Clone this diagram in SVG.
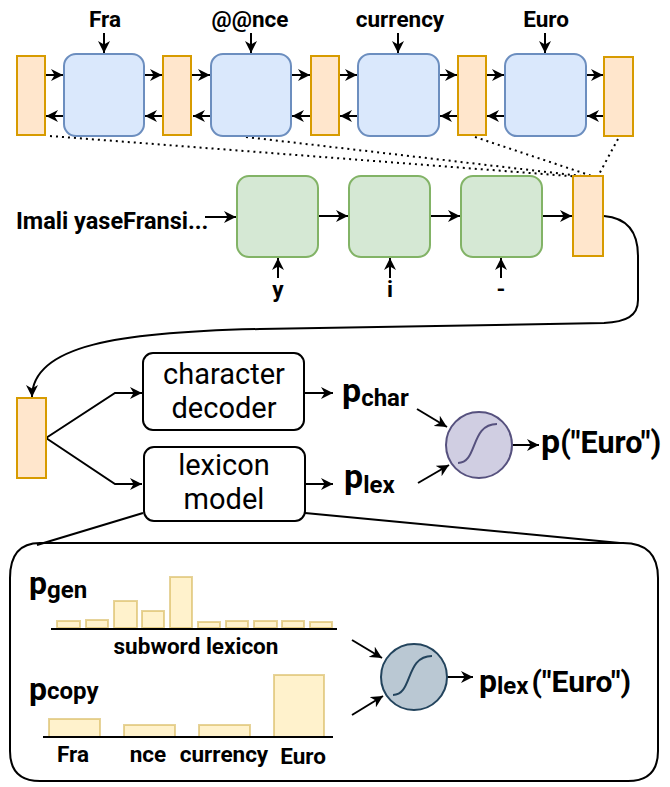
<svg xmlns="http://www.w3.org/2000/svg" width="670" height="787" viewBox="0 0 670 787">
<defs>
<marker id="ah" markerUnits="userSpaceOnUse" markerWidth="12" markerHeight="12" refX="10" refY="5" orient="auto" viewBox="0 0 10 10">
<path d="M0,0 L10,5 L0,10 L3,5 Z" fill="#000"/>
</marker>
<style>
.or{fill:#ffe6cc;stroke:#d79b00;stroke-width:2}
.bl{fill:#dae8fc;stroke:#6c8ebf;stroke-width:2}
.gr{fill:#d5e8d4;stroke:#82b366;stroke-width:2}
.bx{fill:#fff;stroke:#000;stroke-width:2}
.ar{fill:none;stroke:#000;stroke-width:2;marker-end:url(#ah)}
.ln{fill:none;stroke:#000;stroke-width:2}
.dt{fill:none;stroke:#000;stroke-width:2;stroke-dasharray:2 4}
.bar{fill:#fff2cc;stroke:#d6b656;stroke-opacity:0.6;stroke-width:2}
.lb{font-family:Roboto,"Liberation Sans",sans-serif;font-weight:700;font-size:22.5px;fill:#000}
.bt{font-family:Roboto,"Liberation Sans",sans-serif;font-weight:400;font-size:29px;fill:#000;text-anchor:middle}
.pb{font-family:Roboto,"Liberation Sans",sans-serif;font-weight:700;fill:#000}
.mid{text-anchor:middle}
</style>
</defs>

<g id="connectors">
<path class="ar" d="M104 33 L104 53"/>
<path class="ar" d="M251 33 L251 53"/>
<path class="ar" d="M398 33 L398 53"/>
<path class="ar" d="M545 33 L545 53"/>
<path class="ar" d="M45 75 L63 75"/>
<path class="ar" d="M144 75 L162 75"/>
<path class="ar" d="M192 75 L210 75"/>
<path class="ar" d="M291 75 L310 75"/>
<path class="ar" d="M339 75 L357 75"/>
<path class="ar" d="M439 75 L457 75"/>
<path class="ar" d="M486 75 L504 75"/>
<path class="ar" d="M586 75 L603 75"/>
<path class="ar" d="M64 116 L46 116"/>
<path class="ar" d="M163 116 L145 116"/>
<path class="ar" d="M211 116 L193 116"/>
<path class="ar" d="M311 116 L292 116"/>
<path class="ar" d="M358 116 L340 116"/>
<path class="ar" d="M458 116 L440 116"/>
<path class="ar" d="M505 116 L487 116"/>
<path class="ar" d="M604 116 L587 116"/>
<path class="dt" d="M50 136 L582 177"/>
<path class="dt" d="M246 137 L590 177"/>
<path class="dt" d="M475 137 L595 177"/>
<path class="dt" d="M618 139 L598 176"/>
<path class="ar" d="M205 217 L236 217"/>
<path class="ar" d="M318 216 L348 216"/>
<path class="ar" d="M430 216 L460 216"/>
<path class="ar" d="M542 216 L572 216"/>
<path class="ar" d="M278 278 L278 258"/>
<path class="ar" d="M390 278 L390 258"/>
<path class="ar" d="M501 278 L501 258"/>
<path class="ar" d="M604 216 C628 218 638 232 638 256 L638 300 C638 316 626 322 604 323 L260 329 C120 332 32 345 32 397"/>
<path class="ar" d="M46 438 L115 393 L142 393"/>
<path class="ar" d="M46 438 L115 484 L142 484"/>
<path class="ar" d="M304 393 L333 393"/>
<path class="ar" d="M305 484 L333 484"/>
<path class="ar" d="M417 409 L447 427"/>
<path class="ar" d="M418 483 L449 465"/>
<path class="ar" d="M512 445 L539 445"/>
<path class="ln" d="M143 513 L37 545"/>
<path class="ln" d="M305 513 L620 543"/>
<path class="ar" d="M352 640 L382 658"/>
<path class="ar" d="M352 715 L383 696"/>
<path class="ar" d="M447 677 L473 677"/>
</g>

<g id="enc-h0"><rect class="or" x="17" y="56" width="28" height="79"/></g>
<g id="enc-h1"><rect class="or" x="163" y="56" width="28" height="79"/></g>
<g id="enc-h2"><rect class="or" x="311" y="56" width="28" height="79"/></g>
<g id="enc-h3"><rect class="or" x="458" y="56" width="28" height="79"/></g>
<g id="enc-h4"><rect class="or" x="604" y="57" width="29" height="79"/></g>

<g id="enc-fra"><rect class="bl" x="64" y="54" width="80" height="82" rx="12"/><text class="lb mid" x="105" y="27">Fra</text></g>
<g id="enc-nce"><rect class="bl" x="211" y="54" width="80" height="82" rx="12"/><text class="lb mid" x="250" y="27">@@nce</text></g>
<g id="enc-currency"><rect class="bl" x="358" y="54" width="81" height="82" rx="12"/><text class="lb mid" x="400" y="27">currency</text></g>
<g id="enc-euro"><rect class="bl" x="505" y="54" width="81" height="82" rx="12"/><text class="lb mid" x="546" y="27">Euro</text></g>

<g id="input-text"><text class="lb" x="16" y="229" style="font-size:23.5px">Imali yaseFransi...</text></g>
<g id="dec-y"><rect class="gr" x="237" y="176" width="81" height="81" rx="12"/><text class="lb mid" x="278" y="297">y</text></g>
<g id="dec-i"><rect class="gr" x="349" y="176" width="81" height="81" rx="12"/><text class="lb mid" x="390" y="297">i</text></g>
<g id="dec-dash"><rect class="gr" x="461" y="176" width="81" height="81" rx="12"/><text class="lb mid" x="501" y="297">-</text></g>
<g id="dec-state"><rect class="or" x="573" y="176" width="30" height="80"/></g>

<g id="state"><rect class="or" x="17" y="398" width="29" height="80"/></g>
<g id="char-decoder"><rect class="bx" x="143" y="353" width="161" height="77" rx="10"/><text class="bt" x="224" y="384">character</text><text class="bt" x="224" y="418">decoder</text></g>
<g id="lexicon-model"><rect class="bx" x="144" y="447" width="161" height="74" rx="10"/><text class="bt" x="224" y="475">lexicon</text><text class="bt" x="224" y="509">model</text></g>

<g id="p-char"><text class="pb" x="342" y="402"><tspan font-size="34">p</tspan><tspan font-size="24" dy="4">char</tspan></text></g>
<g id="p-lex"><text class="pb" x="344" y="488"><tspan font-size="34">p</tspan><tspan font-size="24" dy="5">lex</tspan></text></g>
<g id="gate1"><circle cx="479" cy="445" r="33" fill="#d0cee2" stroke="#56517e" stroke-width="2"/><path d="M458 463 C478 463 470 424 497 424" fill="none" stroke="#56517e" stroke-width="2"/></g>
<g id="p-out"><text class="pb" x="541" y="453"><tspan font-size="34">p</tspan><tspan font-size="30.5">("Euro")</tspan></text></g>

<g id="lexicon-detail">
<path d="M40 543 L623 543 Q658 543 658 578 L658 751 Q658 781 628 781 L40 781 Q10 781 10 751 L10 578 Q10 543 40 543 Z" fill="none" stroke="#000" stroke-width="2"/>
<text class="pb" x="29" y="594"><tspan font-size="32">p</tspan><tspan font-size="24" dy="4">gen</tspan></text>
<rect class="bar" x="57" y="621" width="23" height="7"/>
<rect class="bar" x="86" y="620" width="22" height="8"/>
<rect class="bar" x="114" y="601" width="23" height="27"/>
<rect class="bar" x="142" y="611" width="22" height="17"/>
<rect class="bar" x="170" y="577" width="22" height="51"/>
<rect class="bar" x="198" y="622" width="22" height="6"/>
<rect class="bar" x="226" y="621" width="22" height="7"/>
<rect class="bar" x="254" y="621" width="23" height="7"/>
<rect class="bar" x="282" y="621" width="22" height="7"/>
<rect class="bar" x="310" y="622" width="22" height="6"/>
<path class="ln" d="M51 629 L337 629"/>
<text class="lb mid" x="196" y="654">subword lexicon</text>
<text class="pb" x="29" y="700"><tspan font-size="32">p</tspan><tspan font-size="24" dy="-1">copy</tspan></text>
<rect class="bar" x="49" y="719" width="51" height="18"/>
<rect class="bar" x="124" y="725" width="51" height="12"/>
<rect class="bar" x="199" y="725" width="51" height="12"/>
<rect class="bar" x="274" y="675" width="50" height="62"/>
<path class="ln" d="M43 737 L333 737"/>
<text class="lb mid" x="73" y="762">Fra</text>
<text class="lb mid" x="148" y="762">nce</text>
<text class="lb mid" x="224" y="762">currency</text>
<text class="lb mid" x="303" y="764">Euro</text>
<g id="gate2"><circle cx="414" cy="677" r="33" fill="#bac8d3" stroke="#23445d" stroke-width="2"/><path d="M393 695 C413 695 405 656 432 656" fill="none" stroke="#23445d" stroke-width="2"/></g>
<text class="pb" x="479" y="692"><tspan font-size="32">p</tspan><tspan font-size="24" dy="2">lex</tspan><tspan font-size="30" dy="-2" dx="3">("Euro")</tspan></text>
</g>
</svg>
